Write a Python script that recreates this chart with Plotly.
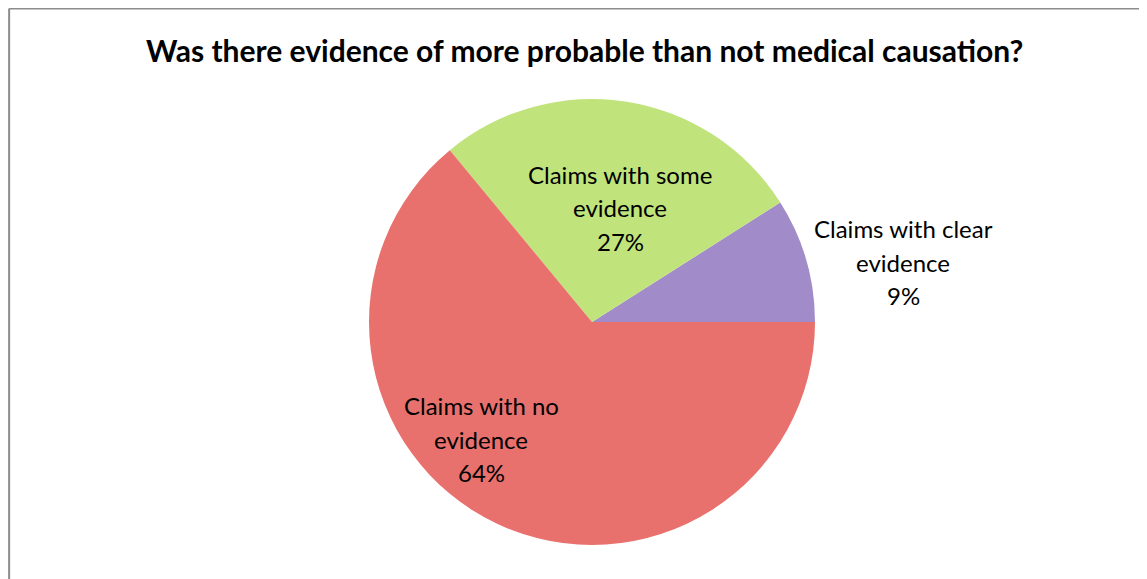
import plotly.graph_objects as go

# Data
categories = ["Claims with clear evidence", "Claims with some evidence", "Claims with no evidence"]
label_lines = [["Claims with clear", "evidence"], ["Claims with some", "evidence"], ["Claims with no", "evidence"]]
values = [9, 27, 64]
colors = ["#a28bc9", "#c0e47b", "#e9716d"]
title_text = "Was there evidence of more probable than not medical causation?"

PAGE_H = 579
OFF = 8  # body margin of the page
W, H = 1147 - OFF, 579 - OFF
FONT = "Lato"


def px(x):
    return (x - OFF) / W


def py(y):
    return (PAGE_H - y) / H


total = sum(values)

fig = go.Figure()
fig.add_trace(go.Pie(
    labels=categories,
    values=values,
    sort=False,
    direction="counterclockwise",
    rotation=90 - 360 * values[0] / total,
    marker=dict(colors=colors, line=dict(width=0)),
    textinfo="none",
    hoverinfo="label+percent",
    showlegend=False,
    domain=dict(x=[px(369), px(815)], y=[py(545), py(99)]),
))

# label centres (page pixels) for each category
label_pos = [(903, 262), (620, 208), (481, 439)]
line_gap = 33
annotations = []
for lines, v, (cx, cy) in zip(label_lines, values, label_pos):
    all_lines = lines + [f"{round(100 * v / total)}%"]
    n = len(all_lines)
    for i, t in enumerate(all_lines):
        yy = cy + (i - (n - 1) / 2) * line_gap
        annotations.append(dict(
            text=t, x=px(cx), y=py(yy), xref="paper", yref="paper",
            showarrow=False, xanchor="center", yanchor="middle",
            font=dict(family=FONT, size=24, color="#000000"),
        ))

annotations.append(dict(
    text=f"<b>{title_text}</b>", x=px(584), y=py(50), xref="paper", yref="paper",
    showarrow=False, xanchor="center", yanchor="middle",
    font=dict(family=FONT, size=30, color="#000000"),
))

fig.update_layout(
    width=W, height=H,
    margin=dict(l=0, r=0, t=0, b=0),
    paper_bgcolor="white", plot_bgcolor="white",
    annotations=annotations,
    shapes=[
        dict(type="line", xref="paper", yref="paper", x0=0.001, x1=1.0, y0=0.999, y1=0.999,
             line=dict(color="#8c8c8c", width=2)),
        dict(type="line", xref="paper", yref="paper", x0=0.001, x1=0.001, y0=0.999, y1=0,
             line=dict(color="#8c8c8c", width=2)),
    ],
)

fig.write_html("out.html")
